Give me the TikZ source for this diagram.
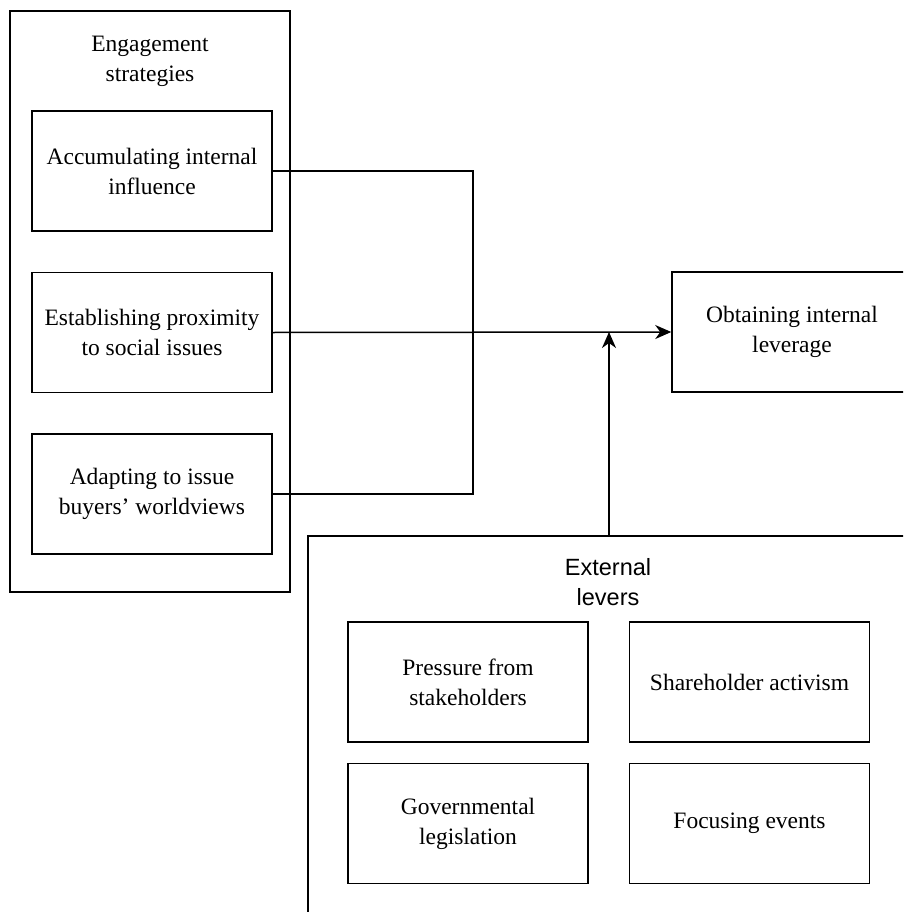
\documentclass[tikz,border=0pt]{standalone}
\usepackage{fontspec}
\setmainfont{Liberation Serif}
\newfontfamily\levfont{Liberation Sans}
\usetikzlibrary{positioning, arrows.meta}

\begin{document}
\begin{tikzpicture}[x=1pt, y=-1pt, node distance=40pt, font=\fontsize{23.5}{30}\selectfont, line width=1.5pt]
    % Styles
    \tikzstyle{frame} = [rectangle, draw, fill=none, inner sep=0pt]
    \tikzstyle{title} = [rectangle, draw=none, align=center]
    \tikzstyle{block} = [rectangle, draw, minimum width=240pt, minimum height=120pt, align=center, inner sep=2pt]
    \tikzstyle{arrow} = [-{Stealth[length=16pt, width=14pt, inset=5pt]}]

    \clip (0,0) rectangle (903,912);

    % Engagement strategies
    \node [frame, minimum width=280pt, minimum height=581pt] (strat) at (150,301.5) {};
    \node [title] (strattitle) at (150,61) {Engagement\\strategies};
    \node [block] (accum) at (152,171) {Accumulating internal\\influence};
    \node [block, below=of accum] (prox) {Establishing proximity\\to social issues};
    \node [block, below=of prox] (adapt) {Adapting to issue\\buyers’ worldviews};

    % Outcome
    \node [block] (obtain) at (792,332) {Obtaining internal\\leverage};

    % External levers
    \node [frame, minimum width=600pt, minimum height=400pt] (ext) at (608,736) {};
    \node [title, font=\levfont\fontsize{23.5}{30}\selectfont] (exttitle) at (608,582) {External\\levers};
    \node [block] (press) at (468,682) {Pressure from\\stakeholders};
    \node [block, right=of press] (share) {Shareholder activism};
    \node [block, below=20pt of press] (govern) {Governmental\\legislation};
    \node [block, below=20pt of share] (focus) {Focusing events};

    % Connections
    \coordinate (join) at (609,332);
    \draw (accum.east) -- ++(200,0) |- (adapt.east);
    \draw [arrow] (prox.east) -- (obtain.west);
    \draw [arrow] (ext.north -| join) -- (join);
\end{tikzpicture}
\end{document}
